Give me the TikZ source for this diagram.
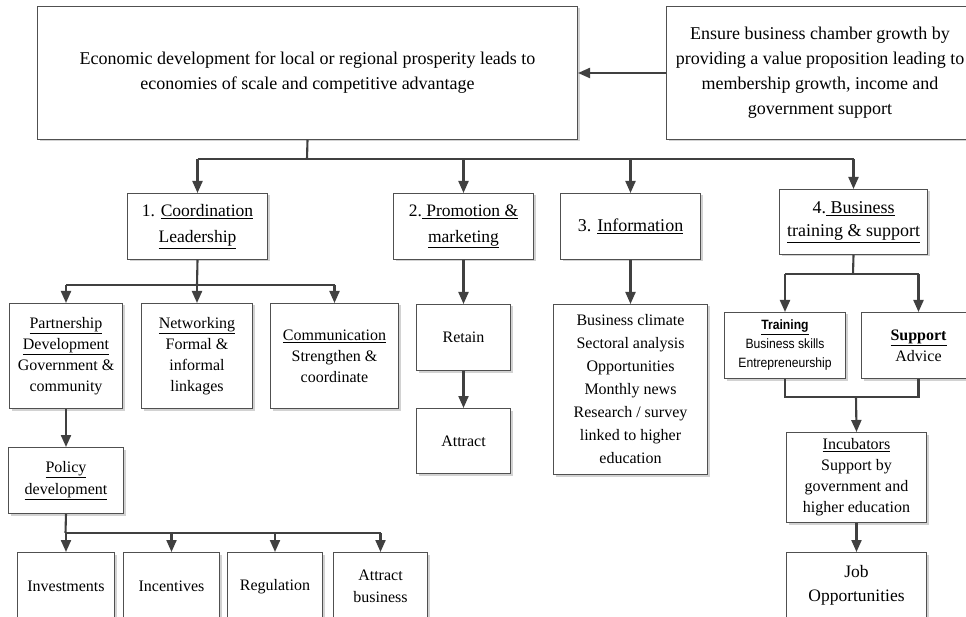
\documentclass[tikz,border=0pt]{standalone}
\usepackage{fontspec}
\setmainfont{Liberation Serif}
\newfontfamily\narrowsans{Liberation Sans}[FakeStretch=0.9]
\usetikzlibrary{arrows.meta,shadows,calc}
\definecolor{linegray}{HTML}{404040}
\definecolor{boxgray}{HTML}{505050}
\newcommand{\fsz}[2]{\fontsize{#1}{#2}\selectfont}
\newcommand{\uln}[1]{\underline{#1}}
\begin{document}
\begin{tikzpicture}[x=1pt,y=-1pt,
  box/.style={draw=boxgray, line width=1pt, fill=white, align=center, inner sep=0pt, anchor=north west,
    drop shadow={shadow xshift=2pt, shadow yshift=-2pt, fill=black!35, opacity=0.5}},
  conn/.style={draw=linegray, line width=2.1pt},
  arr/.style={conn, -{Triangle[length=12pt,width=10pt]}}]
\useasboundingbox (0,0) rectangle (966,617);
\fill[white] (0,0) rectangle (966,617);
\clip (0,0) rectangle (966,617);

% top row
\node[box, minimum width=540, minimum height=133, font=\fsz{18}{25}] (top) at (37,6)
  {Economic development for local or regional prosperity leads to\\economies of scale and competitive advantage};
\node[box, minimum width=307, minimum height=133, font=\fsz{18}{25}] (rt) at (666,6)
  {Ensure business chamber growth by\\providing a value proposition leading to\\membership growth, income and\\government support};

% second row
\node[box, minimum width=140, minimum height=66, font=\fsz{17.5}{26}] (b1) at (127,193)
  {1. \uln{Coordination}\\\uln{Leadership}};
\node[box, minimum width=140, minimum height=66, font=\fsz{17.5}{26}] (b2) at (393,193)
  {2.\uln{\ Promotion \&}\\\uln{marketing}};
\node[box, minimum width=140, minimum height=66, font=\fsz{18}{24}] (b3) at (560,193)
  {3. \uln{Information}};
\node[box, minimum width=148, minimum height=65, font=\fsz{18}{23}] (b4) at (779,189)
  {4.\uln{\ Business}\\\uln{training \& support}};

% third row
\node[box, minimum width=113, minimum height=105, font=\fsz{16}{21}] (pd) at (9,303)
  {\uln{Partnership}\\\uln{Development}\\Government \&\\community};
\node[box, minimum width=111, minimum height=105, font=\fsz{16}{21}] (nw) at (141,303)
  {\uln{Networking}\\Formal \&\\informal\\linkages};
\node[box, minimum width=128, minimum height=105, font=\fsz{16}{21}] (cm) at (270,303)
  {\uln{Communication}\\Strengthen \&\\coordinate};
\node[box, minimum width=94, minimum height=66, font=\fsz{16}{21}] (re) at (416,304) {Retain};
\node[box, minimum width=94, minimum height=65, font=\fsz{16}{21}] (at) at (416,408) {Attract};
\node[box, minimum width=154, minimum height=170, font=\fsz{16}{23}] (li) at (553,304)
  {Business climate\\Sectoral analysis\\Opportunities\\Monthly news\\Research / survey\\linked to higher\\education};
\node[box, minimum width=121, minimum height=66, font=\narrowsans\fsz{13.5}{19}] (tr) at (724,312)
  {{\bfseries\uln{Training}}\\Business skills\\Entrepreneurship};
\node[box, minimum width=114, minimum height=66, font=\fsz{16}{21}] (sp) at (861,312)
  {{\bfseries\uln{Support}}\\Advice};

% lower rows
\node[box, minimum width=115, minimum height=66, font=\fsz{16}{22}] (po) at (8,447)
  {\uln{Policy}\\\uln{development}};
\node[box, minimum width=97, minimum height=68, font=\fsz{16}{22}] (inv) at (17,552) {Investments};
\node[box, minimum width=96, minimum height=68, font=\fsz{16}{22}] (inc) at (123,552) {Incentives};
\node[box, minimum width=95, minimum height=68, font=\fsz{16}{22}] (reg) at (227,552) {Regulation};
\node[box, minimum width=94, minimum height=68, font=\fsz{16}{22}] (ab) at (333,552) {Attract\\business};
\node[box, minimum width=140, minimum height=90, font=\fsz{16}{21}] (icb) at (786,432)
  {\uln{Incubators}\\Support by\\government and\\higher education};
\node[box, minimum width=140, minimum height=66, font=\fsz{17.5}{24}] (job) at (786,552)
  {Job\\Opportunities};

% connectors
\draw[arr] (rt.west) -- (top.east);
\coordinate (h0) at (307,159);
\draw[conn] (top.south) -- (h0);
\draw[conn] (b1.north |- h0) -- (b4.north |- h0);
\foreach \n in {b1,b2,b3,b4} \draw[arr] (\n.north |- h0) -- (\n.north);

\coordinate (h1) at (197,285);
\draw[conn] (b1.south) -- (h1);
\draw[conn] (pd.north |- h1) -- (cm.north |- h1);
\foreach \n in {pd,nw,cm} \draw[arr] (\n.north |- h1) -- (\n.north);

\draw[arr] (b2.south) -- (re.north);
\draw[arr] (re.south) -- (at.north);
\draw[arr] (b3.south) -- (li.north);

\draw[arr] (pd.south) -- (po.north);
\coordinate (h2) at (65.5,533);
\draw[conn] (po.south) -- (h2);
\draw[conn] (inv.north |- h2) -- (ab.north |- h2);
\foreach \n in {inv,inc,reg,ab} \draw[arr] (\n.north |- h2) -- (\n.north);

\coordinate (h3) at (853,274);
\draw[conn] (b4.south) -- (h3);
\draw[conn] (tr.north |- h3) -- (sp.north |- h3);
\foreach \n in {tr,sp} \draw[arr] (\n.north |- h3) -- (\n.north);

\coordinate (h4) at (856,397);
\draw[conn] (tr.south) -- (tr.south |- h4) -- (sp.south |- h4) -- (sp.south);
\draw[arr] (h4) -- (icb.north);
\draw[arr] (icb.south) -- (job.north);
\end{tikzpicture}
\end{document}
